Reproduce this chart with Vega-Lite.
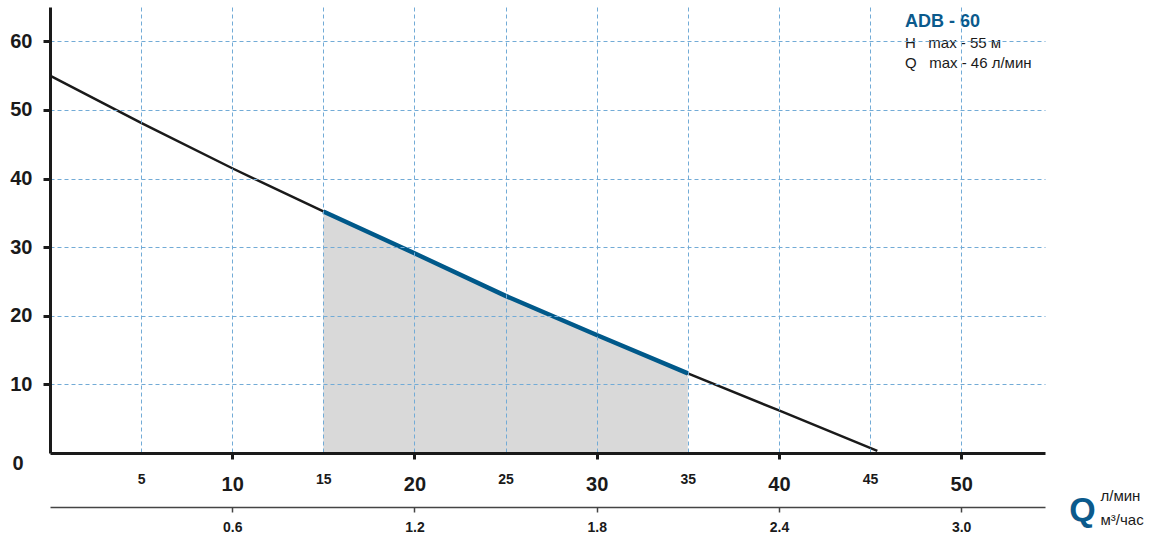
{
  "$schema": "https://vega.github.io/schema/vega-lite/v6.json",
  "width": 995,
  "height": 446,
  "autosize": {"type": "none"},
  "padding": {"left": 50, "top": 7, "right": 108, "bottom": 87},
  "background": "white",
  "config": {"view": {"stroke": null}, "font": "Liberation Sans"},
  "title": {
    "text": "ADB - 60",
    "subtitle": ["H\u00a0\u00a0\u00a0max - 55 м", "Q\u00a0\u00a0\u00a0max - 46 л/мин"],
    "orient": "top",
    "anchor": "start",
    "frame": "group",
    "dx": 855,
    "offset": -64,
    "font": "Liberation Sans",
    "fontSize": 18,
    "fontWeight": "bold",
    "color": "#0b5a8c",
    "subtitleFont": "Liberation Sans",
    "subtitleFontSize": 15,
    "subtitleColor": "#1a1a1a",
    "subtitleLineHeight": 20,
    "subtitlePadding": 5
  },
  "data": {
    "values": [
      {"q": 0, "h": 55},
      {"q": 5, "h": 48.1},
      {"q": 10, "h": 41.5},
      {"q": 15, "h": 35.2},
      {"q": 20, "h": 29.1},
      {"q": 25, "h": 22.9},
      {"q": 30, "h": 17.2},
      {"q": 35, "h": 11.6},
      {"q": 40, "h": 6.2},
      {"q": 45.4, "h": 0.3}
    ]
  },
  "layer": [
    {
      "transform": [{"filter": "datum.q >= 15 && datum.q <= 35"}],
      "mark": {"type": "area", "color": "#d9d9d9"},
      "encoding": {
        "x": {
          "field": "q",
          "type": "quantitative",
          "scale": {"domain": [0, 54.6], "nice": false},
          "axis": {
            "values": [5, 10, 15, 20, 25, 30, 35, 40, 45, 50],
            "title": "Q",
            "titleFont": "Liberation Sans",
            "titleFontSize": 34,
            "titleFontWeight": "bold",
            "titleColor": "#0b5a8c",
            "titleX": 1032,
            "titleY": 57,
            "titleAlign": "center",
            "titleBaseline": "middle",
            "titleAngle": 0,
            "domainColor": "#1a1a1a",
            "domainWidth": 3,
            "grid": true,
            "gridColor": "#72abd6",
            "gridDash": [4, 3],
            "gridWidth": 1,
            "ticks": true,
            "tickColor": "#1a1a1a",
            "tickWidth": 3,
            "tickSize": 6,
            "tickOpacity": {"condition": {"test": "datum.value % 10 === 0", "value": 1}, "value": 0},
            "labelFont": "Liberation Sans",
            "labelFontWeight": "bold",
            "labelColor": "#1a1a1a",
            "labelFontSize": {"condition": {"test": "datum.value % 10 === 0", "value": 20}, "value": 14},
            "labelPadding": {"condition": {"test": "datum.value % 10 === 0", "value": 15}, "value": 13},
            "labelFlush": false,
            "labelOverlap": false,
            "zindex": 1
          }
        },
        "y": {
          "field": "h",
          "type": "quantitative",
          "scale": {"domain": [0, 65], "nice": false},
          "axis": {
            "values": [0, 10, 20, 30, 40, 50, 60],
            "title": null,
            "domainColor": "#1a1a1a",
            "domainWidth": 3,
            "grid": true,
            "gridColor": "#72abd6",
            "gridDash": [4, 3],
            "gridWidth": 1,
            "gridOpacity": {"condition": {"test": "datum.value === 0", "value": 0}, "value": 1},
            "tickColor": "#1a1a1a",
            "tickWidth": 3,
            "tickSize": 7,
            "tickOpacity": {"condition": {"test": "datum.value === 0", "value": 0}, "value": 1},
            "labelFont": "Liberation Sans",
            "labelFontWeight": "bold",
            "labelFontSize": 20,
            "labelColor": "#1a1a1a",
            "labelPadding": {"condition": {"test": "datum.value === 0", "value": 20}, "value": 11},
            "labelOffset": {"condition": {"test": "datum.value === 0", "value": 10}, "value": 0},
            "labelFlush": false,
            "labelOverlap": false,
            "zindex": 1
          }
        }
      }
    },
    {
      "mark": {"type": "line", "color": "#1a1a1a", "strokeWidth": 2.5},
      "encoding": {
        "x": {
          "field": "q",
          "type": "quantitative",
          "axis": {
            "orient": "bottom",
            "offset": 54,
            "values": [10, 20, 30, 40, 50],
            "labelExpr": "format(datum.value * 0.06, '.1f')",
            "grid": false,
            "domainColor": "#444444",
            "domainWidth": 1.5,
            "tickColor": "#444444",
            "tickWidth": 1.5,
            "tickSize": 5,
            "labelFont": "Liberation Sans",
            "labelFontWeight": "bold",
            "labelFontSize": 14,
            "labelColor": "#1a1a1a",
            "labelPadding": 8,
            "labelFlush": false,
            "labelOverlap": false,
            "title": ["л/мин", "м³/час"],
            "titleFont": "Liberation Sans",
            "titleFontSize": 15,
            "titleFontWeight": "normal",
            "titleColor": "#1a1a1a",
            "titleX": 1050,
            "titleY": -7,
            "titleAlign": "left",
            "titleBaseline": "alphabetic",
            "titleLineHeight": 24,
            "titleAngle": 0
          }
        },
        "y": {"field": "h", "type": "quantitative", "title": null}
      }
    },
    {
      "transform": [{"filter": "datum.q >= 15 && datum.q <= 35"}],
      "mark": {"type": "line", "color": "#00598a", "strokeWidth": 4.5},
      "encoding": {
        "x": {"field": "q", "type": "quantitative", "axis": null},
        "y": {"field": "h", "type": "quantitative", "title": null}
      }
    }
  ],
  "resolve": {"axis": {"x": "independent"}}
}
